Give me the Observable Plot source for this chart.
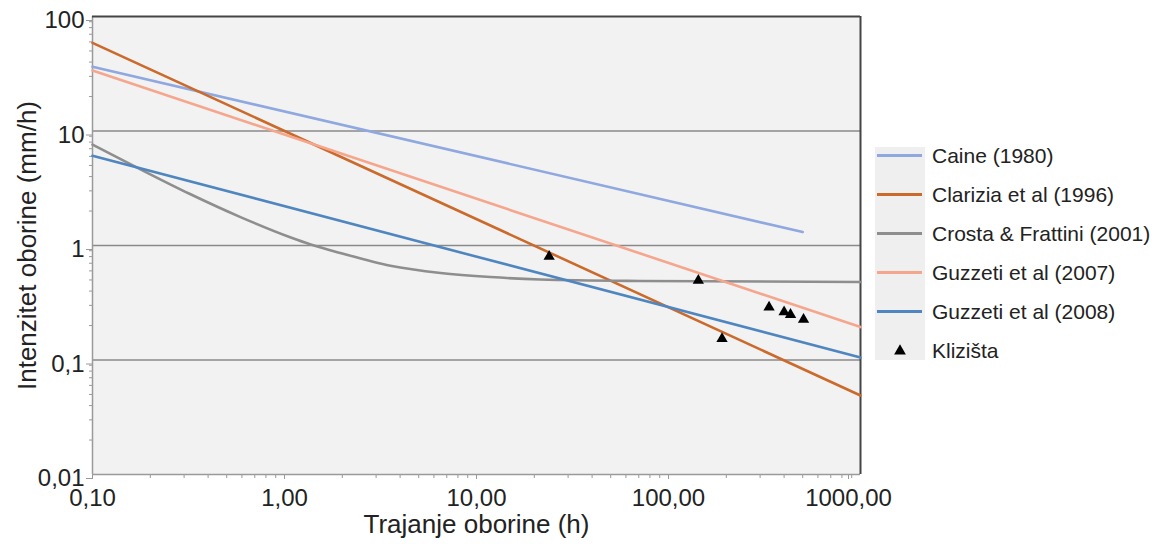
<!DOCTYPE html>
<html>
<head>
<meta charset="utf-8">
<script src="https://cdn.jsdelivr.net/npm/d3@7"></script>
<script src="https://cdn.jsdelivr.net/npm/@observablehq/plot@0.6"></script>
<style>
  body { margin: 0; background: #ffffff; font-family: "Liberation Sans", Arial, sans-serif; }
  #wrap { position: relative; width: 1162px; height: 544px; overflow: hidden; }
  #chart { position: absolute; left: 0; top: 0; }
  #swbg { position: absolute; left: 875px; top: 147px; width: 50px; height: 213px; background: #efefef; }
  #legend { position: absolute; left: 875px; top: 136px; }
  .row { display: flex; align-items: center; height: 39px; }
  .row svg { display: block; width: 50px; height: 39px; }
  .lab { margin-left: 7px; font-size: 21px; color: #222; white-space: nowrap; }
</style>
</head>
<body>
<div id="wrap">
  <div id="chart"></div>
  <div id="swbg"></div>
  <div id="legend"></div>
</div>
<script>
// ---- data ----
const seriesNames = ["Caine (1980)", "Clarizia et al (1996)", "Crosta & Frattini (2001)", "Guzzeti et al (2007)", "Guzzeti et al (2008)"];
const seriesColors = ["#8fa8df", "#cc6a2c", "#8e8e8e", "#f5a68c", "#4f86c0"];

const caineD = [0.1, 500];
const caineI = [36.4, 1.31];

const clariziaD = [0.1, 1000];
const clariziaI = [58.9, 0.049];

const crostaD = [0.1, 0.18, 0.32, 0.59, 1.07, 1.37, 2.0, 3.56, 6.5, 11.8, 21.5, 71, 1000];
const crostaI = [7.6, 4.58, 2.83, 1.77, 1.18, 1.02, 0.85, 0.665, 0.575, 0.53, 0.505, 0.49, 0.48];

const guzz2007D = [0.1, 1000];
const guzz2007I = [33.8, 0.194];

const guzz2008D = [0.1, 1000];
const guzz2008I = [6.08, 0.105];

const landslideName = "Klizišta";
const landslideD = [23.9, 143, 190, 334, 400, 432, 505];
const landslideI = [0.80, 0.494, 0.153, 0.289, 0.262, 0.249, 0.226];

const majorX = [0.1, 1, 10, 100, 1000];
const xLabels = ["0,10", "1,00", "10,00", "100,00", "1000,00"];
const majorY = [0.01, 0.1, 1, 10, 100];
const yLabels = ["0,01", "0,1", "1", "10", "100"];
const gridY = [0.1, 1, 10];

const xTitle = "Trajanje oborine (h)";
const yTitle = "Intenzitet oborine (mm/h)";

// ---- build tables ----
const seriesD = [caineD, clariziaD, crostaD, guzz2007D, guzz2008D];
const seriesI = [caineI, clariziaI, crostaI, guzz2007I, guzz2008I];
const lineRows = [];
seriesNames.forEach((name, k) => {
  seriesD[k].forEach((d, i) => lineRows.push({series: name, D: d, I: seriesI[k][i]}));
});
const pointRows = landslideD.map((d, i) => ({D: d, I: landslideI[i]}));

const minor = (lo, hi) => {
  const out = [];
  for (let e = lo; e < hi; e++) for (let m = 2; m <= 9; m++) out.push(m * Math.pow(10, e));
  return out;
};
const minorX = minor(-1, 3);
const minorY = minor(-2, 2);
const xFmt = d => xLabels[majorX.indexOf(d)];

const chart = Plot.plot({
  width: 1162,
  height: 544,
  marginLeft: 92,
  marginRight: 302,
  marginTop: 16,
  marginBottom: 70,
  style: {fontFamily: "Liberation Sans, Arial, sans-serif", fontSize: "24px", background: "transparent", color: "#222"},
  x: {type: "log", domain: [0.1, 1000]},
  y: {type: "log", domain: [0.01, 100]},
  color: {domain: seriesNames, range: seriesColors},
  marks: [
    Plot.frame({fill: "#f2f2f2", stroke: null}),
    Plot.ruleY(gridY, {stroke: "#8a8a8a", strokeWidth: 1.6}),
    // axes
    Plot.axisX(minorX, {tickSize: 4, tickFormat: () => "", label: null, stroke: "#9a9a9a"}),
    Plot.axisX(majorX.slice(0, 4), {tickSize: 5, tickPadding: 9, tickFormat: xFmt, label: null, stroke: "#9a9a9a", fill: "#222", fontSize: 24}),
    Plot.axisX(majorX.slice(4), {tickSize: 5, tickPadding: 9, dx: -12, tickFormat: xFmt, label: null, stroke: "#9a9a9a", fill: "#222", fontSize: 24}),
    Plot.axisY(minorY, {tickSize: 3, tickFormat: () => "", label: null, stroke: "#9a9a9a"}),
    Plot.axisY(majorY, {tickSize: 6, tickPadding: 2, dy: 4, tickFormat: d => yLabels[majorY.indexOf(d)], label: null, stroke: "#9a9a9a", fill: "#222", fontSize: 24}),
    Plot.ruleX([0.1], {stroke: "#9a9a9a", strokeWidth: 1.5}),
    Plot.ruleY([0.01], {stroke: "#9a9a9a", strokeWidth: 1.5}),
    Plot.ruleY([100], {stroke: "#444", strokeWidth: 2}),
    Plot.ruleX([1000], {stroke: "#444", strokeWidth: 2}),
    // series
    Plot.line(lineRows, {x: "D", y: "I", z: "series", stroke: "series", strokeWidth: 2.6, curve: "monotone-x"}),
    Plot.dot(pointRows, {x: "D", y: "I", symbol: "triangle", r: 4.2, fill: "#000", stroke: null}),
    // titles
    Plot.text([xTitle], {text: d => d, frameAnchor: "bottom", lineAnchor: "middle", textAnchor: "middle", dy: 50, fontSize: 26, fill: "#222"}),
    Plot.text([yTitle], {text: d => d, frameAnchor: "left", lineAnchor: "middle", textAnchor: "middle", dx: -65, rotate: -90, fontSize: 26, fill: "#222"})
  ]
});
document.getElementById("chart").appendChild(chart);

// ---- legend ----
const legend = document.getElementById("legend");
const ns = "http://www.w3.org/2000/svg";
seriesNames.forEach((name, k) => {
  const row = document.createElement("div");
  row.className = "row";
  const svg = document.createElementNS(ns, "svg");
  const ln = document.createElementNS(ns, "line");
  ln.setAttribute("x1", 2); ln.setAttribute("x2", 47);
  ln.setAttribute("y1", 19.5); ln.setAttribute("y2", 19.5);
  ln.setAttribute("stroke", seriesColors[k]);
  ln.setAttribute("stroke-width", 3);
  svg.appendChild(ln);
  row.appendChild(svg);
  const lab = document.createElement("span");
  lab.className = "lab";
  lab.textContent = name;
  row.appendChild(lab);
  legend.appendChild(row);
});
{
  const row = document.createElement("div");
  row.className = "row";
  const svg = document.createElementNS(ns, "svg");
  const p = document.createElementNS(ns, "path");
  p.setAttribute("d", d3.symbol(d3.symbolTriangle, 60)());
  p.setAttribute("transform", "translate(25,20)");
  p.setAttribute("fill", "#000");
  svg.appendChild(p);
  row.appendChild(svg);
  const lab = document.createElement("span");
  lab.className = "lab";
  lab.textContent = landslideName;
  row.appendChild(lab);
  legend.appendChild(row);
}
</script>
</body>
</html>
